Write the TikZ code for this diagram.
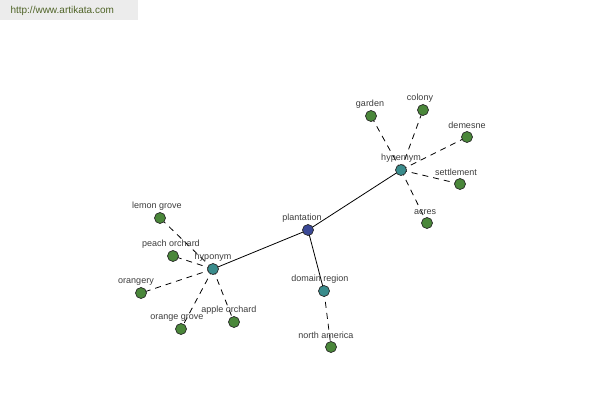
\documentclass[tikz,border=0pt]{standalone}
\usepackage{fontspec}
\setmainfont{Liberation Sans}
\usetikzlibrary{backgrounds}
\definecolor{cblue}{RGB}{58,72,150}
\definecolor{cteal}{RGB}{58,140,140}
\definecolor{cgreen}{RGB}{74,135,58}
\definecolor{cbord}{RGB}{40,40,40}
\definecolor{ctext}{RGB}{60,60,60}
\definecolor{cbanner}{RGB}{236,236,236}
\definecolor{curl}{RGB}{80,100,40}
\tikzset{
  vtx/.style={circle, draw=cbord, line width=0.7pt, minimum size=11pt, inner sep=0pt,
    label distance=0pt, label={[font=\fontsize{9}{10}\selectfont, text=ctext, anchor=center, xshift=#1, yshift=5.5pt]above:\vtxtext}},
  gnode/.style={vtx=#1, fill=cgreen},
  tnode/.style={vtx=#1, fill=cteal},
  bnode/.style={vtx=#1, fill=cblue},
  solidedge/.style={draw=black, line width=0.8pt},
  dashedge/.style={draw=black, line width=0.8pt, dash pattern=on 6pt off 5pt},
}
\newcommand{\vtxtext}{}
\newcommand{\vnode}[5]{\renewcommand{\vtxtext}{#5}\node[#1=#2] (#3) at #4 {};}
\begin{document}
\begin{tikzpicture}[x=1pt,y=-1pt]
\useasboundingbox (0,0) rectangle (600,400);
\node[fill=cbanner, minimum width=138pt, minimum height=20pt, anchor=north west, inner sep=0pt] (banner) at (0,0) {};
\node[text=curl, font=\fontsize{10}{12}\selectfont, anchor=west] (url) at (7,11) {http://www.artikata.com};
% vertices
\vnode{bnode}{-6pt}{plantation}{(308,230)}{plantation}
\vnode{tnode}{0pt}{hypernym}{(401,170)}{hypernym}
\vnode{tnode}{0pt}{hyponym}{(213,269)}{hyponym}
\vnode{tnode}{-4pt}{domain}{(324,291)}{domain region}
\vnode{gnode}{-1pt}{garden}{(371,116)}{garden}
\vnode{gnode}{-3pt}{colony}{(423,110)}{colony}
\vnode{gnode}{0pt}{demesne}{(467,137)}{demesne}
\vnode{gnode}{-4pt}{settlement}{(460,184)}{settlement}
\vnode{gnode}{-2pt}{acres}{(427,223)}{acres}
\vnode{gnode}{-3pt}{lemon}{(160,218)}{lemon grove}
\vnode{gnode}{-2pt}{peach}{(173,256)}{peach orchard}
\vnode{gnode}{-5pt}{orangery}{(141,293)}{orangery}
\vnode{gnode}{-4pt}{orgrove}{(181,329)}{orange grove}
\vnode{gnode}{-5pt}{apple}{(234,322)}{apple orchard}
\vnode{gnode}{-5pt}{nam}{(331,347)}{north america}
% edges
\begin{scope}[on background layer]
\path[solidedge] (plantation.center) -- (hypernym.center);
\path[solidedge] (plantation.center) -- (hyponym.center);
\path[solidedge] (plantation.center) -- (domain.center);
\foreach \c in {garden,colony,demesne,settlement,acres} {\path[dashedge] (hypernym.center) -- (\c.center);}
\foreach \c in {lemon,peach,orangery,orgrove,apple} {\path[dashedge] (hyponym.center) -- (\c.center);}
\path[dashedge] (domain.center) -- (nam.center);
\end{scope}
\end{tikzpicture}
\end{document}
